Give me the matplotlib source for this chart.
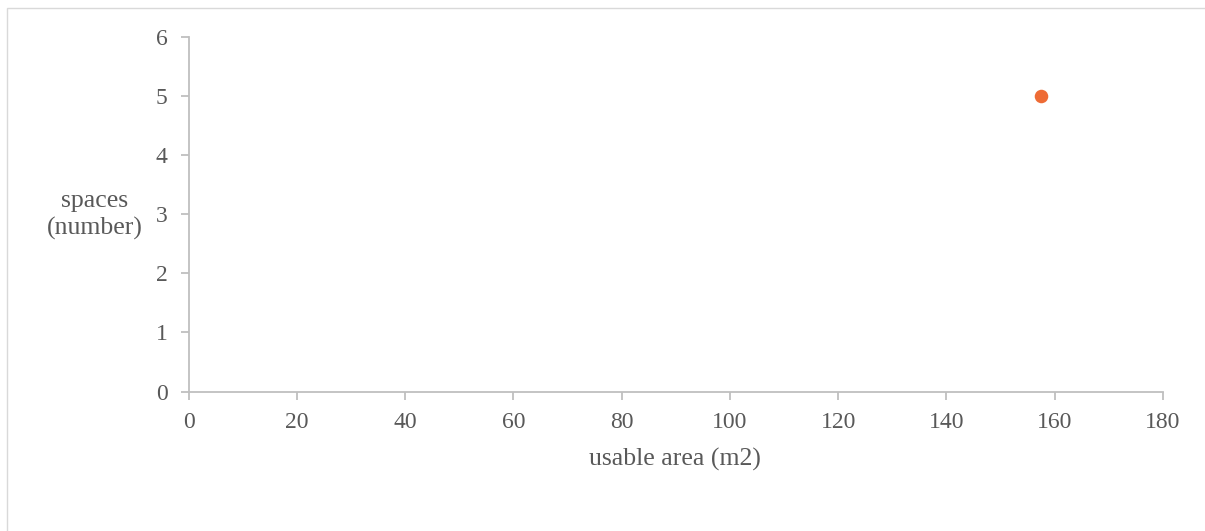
import matplotlib.pyplot as plt
from matplotlib.patches import Rectangle

# data
usable_area = [157.5]
spaces = [5]
x_ticks = [0, 20, 40, 60, 80, 100, 120, 140, 160, 180]
y_ticks = [0, 1, 2, 3, 4, 5, 6]

plt.rcParams['font.family'] = ['Liberation Serif', 'DejaVu Serif']

W, H = 1205, 531
fig = plt.figure(figsize=(W / 100, H / 100), dpi=100)

# light frame round the chart area (right/bottom edges fall off the picture)
fig.patches.append(Rectangle((7.5 / W, -0.2), 1.2, 1.2 - 7.5 / H, transform=fig.transFigure,
                             fill=False, edgecolor='#d9d9d9', linewidth=1.0))

ax = fig.add_axes([188.5 / W, 1 - 391.5 / H, (1163 - 188.5) / W, (391.5 - 37) / H])
ax.scatter(usable_area, spaces, s=95, color='#EE6B35', zorder=3, linewidths=0)

ax.set_xlim(0, 180)
ax.set_ylim(0, 6)
ax.set_xticks(x_ticks)
ax.set_yticks(y_ticks)

for side in ['top', 'right']:
    ax.spines[side].set_visible(False)
for side in ['left', 'bottom']:
    ax.spines[side].set_color('#bfbfbf')
    ax.spines[side].set_linewidth(1.3)

ax.tick_params(axis='both', colors='#bfbfbf', length=6, width=1.3,
               labelcolor='#595959', labelsize=17)
ax.tick_params(axis='x', pad=9)
ax.tick_params(axis='y', pad=9)

fig.text(675 / W, 1 - 459 / H, 'usable area (m2)', ha='center', va='center',
         fontsize=18.5, color='#595959')
fig.text(95 / W, 1 - 215 / H, 'spaces\n(number)', ha='center', va='center',
         fontsize=18.5, color='#595959', linespacing=1.25)

plt.savefig('out.png', dpi=100)
